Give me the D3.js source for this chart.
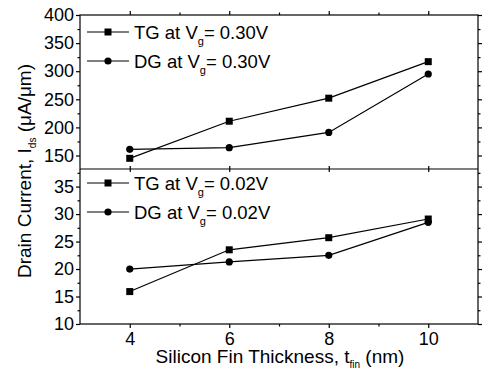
<!DOCTYPE html>
<html>
<head>
<meta charset="utf-8">
<script src="https://cdn.jsdelivr.net/npm/d3@7"></script>
<style>
  body { margin: 0; background: #fff; }
  svg text { font-family: "Liberation Sans", Arial, sans-serif; fill: #000; }
</style>
</head>
<body>
<div id="chart"></div>
<script>
const thickness = [4, 6, 8, 10];
const tgHigh = [145, 211, 252, 317];
const dgHigh = [161, 164, 191, 295];
const tgLow = [15.9, 23.5, 25.7, 29.1];
const dgLow = [20.0, 21.3, 22.5, 28.5];
const highTicks = [150, 200, 250, 300, 350, 400];
const lowTicks = [10, 15, 20, 25, 30, 35];
const xTicks = [4, 6, 8, 10];

const width = 483, height = 378;
const margin = { top: 15, right: 5, bottom: 54, left: 80 };
const innerWidth = width - margin.left - margin.right;
const split = 169;

const svg = d3.select('#chart').append('svg')
  .attr('width', width).attr('height', height);

const x = d3.scaleLinear().domain([3, 11]).range([margin.left, margin.left + innerWidth]);
const yHigh = d3.scaleLinear().domain([126, 400]).range([split, margin.top]);
const yLow = d3.scaleLinear().domain([10, 38.2]).range([height - margin.bottom, split]);

const tickFont = 18;
const legendFont = 18.5;
const titleFont = 19;

// frame lines
const frame = svg.append('g').attr('stroke', '#000').attr('stroke-width', 1.2).attr('fill', 'none');
frame.append('rect')
  .attr('x', margin.left).attr('y', margin.top)
  .attr('width', innerWidth).attr('height', height - margin.bottom - margin.top);
frame.append('line')
  .attr('x1', margin.left).attr('x2', margin.left + innerWidth)
  .attr('y1', split).attr('y2', split);

// axis helper: ticks drawn outside, minor ticks halfway
function styleAxis(g) {
  g.select('.domain').remove();
  g.selectAll('.tick line').attr('stroke', '#000').attr('stroke-width', 1.2);
  g.selectAll('.tick text').attr('font-size', tickFont).attr('font-family', '"Liberation Sans", Arial, sans-serif');
}

function minorOf(ticks, step) {
  return ticks.map((t) => t + step / 2);
}

// left / right axes for both panels
[[yHigh, highTicks, 50], [yLow, lowTicks, 5]].forEach(([scale, ticks, step]) => {
  const lo = scale.domain()[0], hi = scale.domain()[1];
  const minors = minorOf(ticks, step).filter((v) => v > lo && v < hi);
  svg.append('g').attr('transform', `translate(${margin.left},0)`)
    .call(d3.axisLeft(scale).tickValues(ticks).tickSize(4).tickPadding(2).tickFormat(d3.format('d')))
    .call(styleAxis);
  svg.append('g').attr('transform', `translate(${margin.left},0)`)
    .call(d3.axisLeft(scale).tickValues(minors).tickSize(2.5).tickFormat(''))
    .call(styleAxis);
  svg.append('g').attr('transform', `translate(${margin.left + innerWidth},0)`)
    .call(d3.axisRight(scale).tickValues(ticks).tickSize(4).tickFormat(''))
    .call(styleAxis);
  svg.append('g').attr('transform', `translate(${margin.left + innerWidth},0)`)
    .call(d3.axisRight(scale).tickValues(minors).tickSize(2.5).tickFormat(''))
    .call(styleAxis);
});

// x axes
const xMinor = [5, 7, 9];
svg.append('g').attr('transform', `translate(0,${height - margin.bottom})`)
  .call(d3.axisBottom(x).tickValues(xTicks).tickSize(4).tickPadding(4).tickFormat(d3.format('d')))
  .call(styleAxis);
svg.append('g').attr('transform', `translate(0,${height - margin.bottom})`)
  .call(d3.axisBottom(x).tickValues(xMinor).tickSize(2.5).tickFormat(''))
  .call(styleAxis);
svg.append('g').attr('transform', `translate(0,${margin.top})`)
  .call(d3.axisTop(x).tickValues(xTicks).tickSize(4).tickFormat(''))
  .call(styleAxis);
svg.append('g').attr('transform', `translate(0,${margin.top})`)
  .call(d3.axisTop(x).tickValues(xMinor).tickSize(2.5).tickFormat(''))
  .call(styleAxis);
// ticks straddling the panel divider
svg.append('g').attr('transform', `translate(0,${split})`)
  .call(d3.axisBottom(x).tickValues(xTicks).tickSize(3).tickFormat(''))
  .call(styleAxis);
svg.append('g').attr('transform', `translate(0,${split})`)
  .call(d3.axisTop(x).tickValues(xTicks).tickSize(3).tickFormat(''))
  .call(styleAxis);

// series
const series = [
  { values: tgHigh, y: yHigh, marker: 'square' },
  { values: dgHigh, y: yHigh, marker: 'circle' },
  { values: tgLow, y: yLow, marker: 'square' },
  { values: dgLow, y: yLow, marker: 'circle' },
];

function drawMarker(g, type, cx, cy) {
  if (type === 'square') {
    g.append('rect').attr('x', cx - 3.5).attr('y', cy - 3.5).attr('width', 7).attr('height', 7).attr('fill', '#000');
  } else {
    g.append('circle').attr('cx', cx).attr('cy', cy).attr('r', 3.6).attr('fill', '#000');
  }
}

const marks = svg.append('g');
series.forEach((s) => {
  const line = d3.line().x((d, i) => x(thickness[i])).y((d) => s.y(d));
  marks.append('path').datum(s.values).attr('d', line)
    .attr('fill', 'none').attr('stroke', '#000').attr('stroke-width', 1.2);
  s.values.forEach((v, i) => drawMarker(marks, s.marker, x(thickness[i]), s.y(v)));
});

// legends
const legendItems = [
  { label: 'TG at V', volt: '0.30V', marker: 'square', y: 32 },
  { label: 'DG at V', volt: '0.30V', marker: 'circle', y: 61 },
  { label: 'TG at V', volt: '0.02V', marker: 'square', y: 183 },
  { label: 'DG at V', volt: '0.02V', marker: 'circle', y: 212 },
];
const legend = svg.append('g');
legendItems.forEach((item) => {
  legend.append('line').attr('x1', 87).attr('x2', 129).attr('y1', item.y).attr('y2', item.y)
    .attr('stroke', '#000').attr('stroke-width', 1.2);
  drawMarker(legend, item.marker, 108, item.y);
  const t = legend.append('text').attr('x', 134).attr('y', item.y + 6.5).attr('font-size', legendFont);
  t.append('tspan').text(item.label);
  t.append('tspan').attr('font-size', 11).attr('dy', 6).text('g');
  t.append('tspan').attr('dy', -6).text(`= ${item.volt}`);
});

// axis titles
const xt = svg.append('text').attr('x', 280).attr('y', 363).attr('text-anchor', 'middle').attr('font-size', titleFont);
xt.append('tspan').text('Silicon Fin Thickness, t');
xt.append('tspan').attr('font-size', 10).attr('dy', 5).text('fin');
xt.append('tspan').attr('dy', -5).text(' (nm)');

const yt = svg.append('text').attr('transform', 'translate(31,171) rotate(-90)')
  .attr('text-anchor', 'middle').attr('font-size', titleFont);
yt.append('tspan').text('Drain Current, I');
yt.append('tspan').attr('font-size', 10).attr('dy', 5).text('ds');
yt.append('tspan').attr('dy', -5).text(' (\u03bcA/\u03bcm)');
</script>
</body>
</html>
